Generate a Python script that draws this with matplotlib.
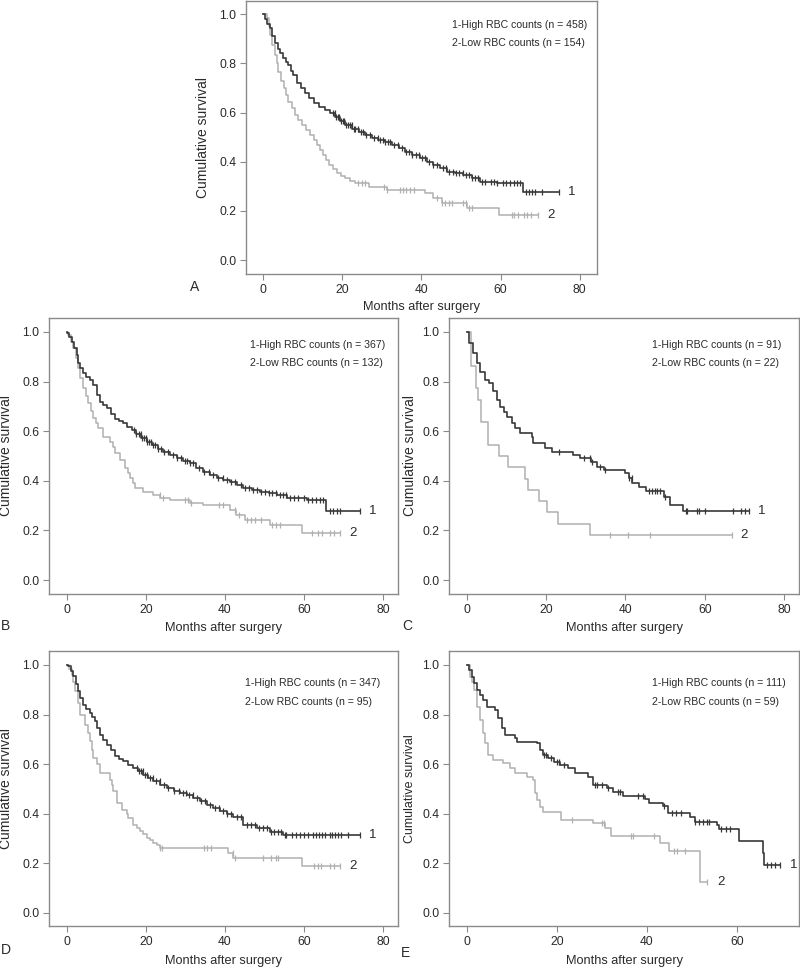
import numpy as np
import matplotlib
matplotlib.use("Agg")
import matplotlib.pyplot as plt

plt.rcParams['font.family'] = ['Liberation Sans', 'DejaVu Sans']

DARK = '#383838'
LIGHT = '#b0b0b0'
FRAME = '#8a8a8a'
TXT = '#2a2a2a'

# ---- panel A: all patients ----
a_t1 = [0, 0.5, 1.0, 1.7, 2.3, 2.96, 3.6, 4.2, 5.0, 5.7, 6.3, 7.0, 7.6, 8.5, 9.5, 10.6, 11.6, 12.7,
        14.1, 15.6, 16.8, 18.1, 19.4, 20.7, 22.4, 24.1, 25.8, 27.4, 29.1, 30.8, 32.5, 34.2, 35.9, 37.6,
        39.5, 41.4, 43.0, 44.8, 46.4, 48.5, 50.6, 52.8, 54.9, 57.0, 59.0, 63.3, 65.8]
a_s1 = [1.0, 0.98, 0.96, 0.942, 0.91, 0.881, 0.86, 0.84, 0.82, 0.806, 0.793, 0.77, 0.752, 0.719, 0.698,
        0.678, 0.657, 0.637, 0.623, 0.61, 0.597, 0.583, 0.566, 0.549, 0.535, 0.522, 0.51, 0.498, 0.49,
        0.482, 0.468, 0.455, 0.441, 0.428, 0.414, 0.4, 0.388, 0.374, 0.36, 0.353, 0.346, 0.333, 0.319,
        0.317, 0.315, 0.313, 0.279]
a_end1 = 74.7
a_c1 = [17.5, 18.0, 18.4, 18.8, 19.2, 19.7, 20.1, 20.5, 21.0, 21.4, 21.9, 22.3, 22.8, 23.3, 24.0, 24.6,
        25.2, 26.0, 27.0, 28.1, 29.0, 29.6, 30.2, 30.8, 31.4, 32.0, 33.0, 34.0, 35.0, 36.0, 36.8, 37.6,
        38.5, 39.3, 40.2, 41.0, 42.0, 43.0, 44.0, 45.5, 46.2, 47.0, 48.0, 48.8, 49.6, 50.5, 51.3, 52.0,
        52.8, 53.6, 54.4, 55.2, 56.0, 57.5, 58.3, 59.2, 60.5, 61.5, 62.5, 63.3, 64.1, 64.9, 66.5, 67.2,
        68.0, 68.8, 70.5, 74.7]
a_t2 = [0, 0.86, 1.3, 1.7, 2.3, 2.96, 3.4, 3.8, 4.4, 5.1, 5.7, 6.3, 7.2, 8.0, 8.8, 9.7, 10.7, 11.8,
        12.7, 13.5, 14.3, 15.2, 15.9, 16.5, 17.5, 18.6, 19.6, 20.7, 22.0, 23.2, 26.6, 31.2, 40.9, 43.0,
        45.1, 51.5, 59.5]
a_s2 = [1.0, 0.982, 0.95, 0.915, 0.875, 0.833, 0.8, 0.766, 0.73, 0.698, 0.67, 0.644, 0.617, 0.59, 0.57,
        0.549, 0.53, 0.509, 0.49, 0.468, 0.448, 0.428, 0.407, 0.387, 0.37, 0.353, 0.343, 0.333, 0.323,
        0.313, 0.299, 0.284, 0.272, 0.252, 0.231, 0.211, 0.184]
a_end2 = 69.6
a_c2 = [24.0, 25.0, 25.6, 30.6, 31.2, 34.5, 35.2, 36.0, 37.2, 38.0, 43.8, 45.3, 46.0, 47.0, 47.8, 50.5,
        51.2, 52.0, 52.8, 62.8, 63.5, 64.5, 66.0, 66.8, 67.6, 69.6]

# ---- panel B ----
b_t1 = [0, 0.15, 0.7, 1.26, 1.9, 2.5, 2.9, 3.5, 4.2, 5.0, 5.9, 6.7, 7.6, 8.4, 9.2, 10.1, 11.1, 12.2,
        13.2, 14.3, 15.3, 16.4, 17.6, 18.9, 20.2, 21.5, 23.0, 24.4, 26.1, 27.8, 29.5, 31.2, 32.8, 34.5,
        36.2, 37.9, 39.6, 41.3, 43.0, 44.6, 46.7, 48.8, 51.0, 53.1, 55.6, 60.6, 65.5]
b_s1 = [1.0, 0.995, 0.98, 0.961, 0.935, 0.907, 0.874, 0.853, 0.833, 0.82, 0.806, 0.786, 0.746, 0.719,
        0.705, 0.692, 0.67, 0.649, 0.64, 0.632, 0.618, 0.605, 0.588, 0.571, 0.558, 0.544, 0.53, 0.517,
        0.504, 0.491, 0.48, 0.47, 0.453, 0.437, 0.423, 0.41, 0.403, 0.396, 0.383, 0.37, 0.363, 0.356,
        0.35, 0.343, 0.332, 0.323, 0.28]
b_end1 = 74.1
b_c1 = [17.0, 17.6, 18.2, 18.7, 19.1, 19.6, 20.0, 20.4, 20.9, 21.3, 21.8, 22.4, 23.0, 23.8, 24.5, 25.5,
        26.8, 28.0, 29.0, 29.8, 30.5, 31.2, 32.0, 33.5, 34.8, 36.0, 37.0, 38.2, 39.5, 40.5, 41.5, 42.5,
        44.0, 45.0, 46.0, 47.0, 48.0, 49.0, 50.0, 51.0, 52.0, 53.0, 53.8, 54.6, 55.4, 56.5, 57.5, 58.5,
        60.0, 61.0, 62.0, 63.0, 64.0, 64.8, 66.5, 67.3, 68.2, 69.0, 74.1]
b_t2 = [0, 0.4, 1.0, 1.7, 2.3, 2.9, 3.5, 4.2, 4.9, 5.5, 6.1, 6.7, 7.4, 8.0, 9.2, 10.9, 11.6, 12.2, 13.5,
        14.7, 15.4, 16.0, 16.7, 17.3, 19.4, 21.9, 23.6, 26.1, 31.2, 34.5, 41.3, 42.9, 45.1, 51.4, 59.4]
b_s2 = [1.0, 0.988, 0.96, 0.934, 0.894, 0.854, 0.813, 0.773, 0.742, 0.712, 0.682, 0.652, 0.632, 0.612,
        0.578, 0.558, 0.535, 0.511, 0.484, 0.45, 0.43, 0.41, 0.39, 0.37, 0.356, 0.343, 0.329, 0.321,
        0.309, 0.302, 0.282, 0.262, 0.242, 0.222, 0.188]
b_end2 = 69.1
b_c2 = [23.5, 24.3, 30.0, 30.7, 31.4, 38.5, 39.5, 42.5, 43.5, 45.5, 46.5, 47.5, 49.0, 52.0, 53.0, 54.0,
        62.0, 63.5, 64.5, 66.5, 67.5, 69.1]

# ---- panel C ----
c_t1 = [0, 0.6, 1.7, 2.5, 3.4, 4.6, 5.5, 6.7, 7.6, 8.4, 9.3, 10.1, 11.4, 12.2, 13.5, 16.4, 16.8, 19.8,
        21.5, 26.9, 28.6, 31.2, 32.8, 34.5, 40.0, 40.8, 41.7, 43.4, 45.1, 49.7, 51.2, 54.6]
c_s1 = [1.0, 0.954, 0.914, 0.874, 0.84, 0.806, 0.793, 0.76, 0.726, 0.699, 0.679, 0.659, 0.632, 0.612,
        0.591, 0.578, 0.551, 0.531, 0.517, 0.504, 0.49, 0.477, 0.457, 0.443, 0.43, 0.41, 0.39, 0.376,
        0.36, 0.335, 0.302, 0.279]
c_end1 = 71.0
c_c1 = [23.2, 29.5, 31.0, 31.5, 33.5, 34.8, 41.0, 41.6, 45.9, 46.7, 47.4, 48.0, 48.7, 50.0, 55.2, 55.6,
        57.9, 58.5, 60.0, 67.1, 69.1, 70.1, 71.0]
c_t2 = [0, 1.2, 2.3, 2.9, 3.5, 5.3, 8.2, 10.5, 14.8, 15.5, 18.2, 20.3, 22.9, 31.0]
c_s2 = [1.0, 0.864, 0.773, 0.727, 0.636, 0.545, 0.5, 0.455, 0.409, 0.364, 0.318, 0.273, 0.227, 0.182]
c_end2 = 66.7
c_c2 = [36.2, 40.7, 46.2, 66.7]

# ---- panel D ----
d_t1 = [0, 0.4, 1.0, 1.7, 2.3, 2.9, 3.5, 4.2, 5.0, 5.9, 6.5, 7.2, 7.8, 8.4, 9.2, 10.1, 11.1, 12.2, 13.2,
        14.3, 15.5, 16.8, 18.1, 19.4, 20.6, 21.9, 23.6, 25.3, 27.0, 28.6, 30.3, 32.0, 33.7, 35.4, 37.0,
        38.7, 40.4, 42.1, 44.6, 48.0, 51.4, 54.7]
d_s1 = [1.0, 0.995, 0.975, 0.954, 0.924, 0.894, 0.867, 0.84, 0.823, 0.806, 0.79, 0.773, 0.745, 0.719,
        0.698, 0.678, 0.655, 0.631, 0.621, 0.611, 0.598, 0.584, 0.57, 0.557, 0.543, 0.53, 0.516, 0.503,
        0.493, 0.483, 0.473, 0.463, 0.45, 0.436, 0.422, 0.409, 0.398, 0.388, 0.354, 0.341, 0.327, 0.314]
d_end1 = 74.1
d_c1 = [17.8, 18.3, 18.8, 19.3, 19.8, 20.4, 21.0, 21.7, 22.5, 23.5, 24.5, 25.5, 27.0, 28.5, 29.5, 30.2,
        31.0, 31.8, 33.0, 34.0, 35.0, 36.2, 37.5, 38.5, 39.5, 40.5, 41.5, 43.0, 44.0, 45.5, 46.5, 47.5,
        48.5, 49.5, 50.5, 51.5, 52.5, 53.5, 54.2, 55.2, 55.5, 57.0, 58.0, 59.0, 60.0, 61.0, 62.2, 63.0,
        63.8, 64.5, 65.2, 66.5, 67.0, 67.8, 68.6, 69.3, 71.0, 74.1]
d_t2 = [0, 0.6, 1.26, 1.7, 2.1, 2.8, 3.4, 4.6, 5.3, 5.9, 6.3, 6.7, 7.6, 8.4, 10.9, 11.4, 11.8, 12.6,
        13.9, 15.2, 15.6, 16.8, 17.7, 18.5, 19.4, 20.2, 21.0, 21.9, 22.8, 23.6, 40.8, 42.1, 59.4]
d_s2 = [1.0, 0.985, 0.961, 0.93, 0.894, 0.847, 0.8, 0.759, 0.725, 0.692, 0.657, 0.625, 0.6, 0.564,
        0.537, 0.515, 0.49, 0.443, 0.416, 0.4, 0.382, 0.355, 0.342, 0.329, 0.316, 0.302, 0.292, 0.281,
        0.272, 0.262, 0.24, 0.219, 0.188]
d_end2 = 69.1
d_c2 = [23.6, 24.2, 34.6, 35.5, 36.4, 42.0, 42.5, 49.5, 51.5, 52.8, 53.4, 62.5, 63.5, 64.3, 66.5, 67.5,
        69.1]

# ---- panel E ----
e_t1 = [0, 0.6, 1.1, 1.6, 2.2, 3.0, 3.7, 4.4, 6.3, 7.0, 7.8, 8.5, 10.7, 11.1, 15.6, 16.3, 17.0, 18.1,
        19.3, 20.7, 22.6, 24.1, 27.0, 28.1, 31.1, 32.6, 34.8, 39.6, 40.4, 43.7, 44.8, 49.6, 50.7, 55.6,
        56.0, 60.5, 65.7, 66.1]
e_s1 = [1.0, 0.98, 0.953, 0.926, 0.899, 0.879, 0.859, 0.832, 0.818, 0.785, 0.744, 0.717, 0.704, 0.69,
        0.684, 0.657, 0.637, 0.623, 0.61, 0.596, 0.583, 0.563, 0.549, 0.515, 0.502, 0.489, 0.471, 0.458,
        0.441, 0.432, 0.404, 0.388, 0.367, 0.354, 0.338, 0.289, 0.24, 0.192]
e_end1 = 69.6
e_c1 = [17.2, 17.6, 18.7, 20.0, 20.6, 21.5, 28.5, 29.0, 30.0, 31.3, 33.5, 34.0, 38.0, 39.2, 43.9, 45.5,
        46.5, 47.6, 50.8, 51.5, 52.4, 53.3, 53.8, 56.5, 57.5, 58.5, 66.8, 67.6, 68.4, 69.6]
e_t2 = [0, 0.7, 1.1, 1.6, 2.2, 3.0, 3.6, 4.1, 4.8, 5.9, 8.1, 9.6, 10.7, 13.3, 14.8, 15.2, 15.6, 16.3,
        17.0, 21.0, 28.1, 30.7, 32.0, 43.0, 45.0, 51.9]
e_s2 = [1.0, 0.953, 0.933, 0.899, 0.832, 0.778, 0.724, 0.684, 0.637, 0.616, 0.603, 0.583, 0.563, 0.549,
        0.536, 0.482, 0.455, 0.428, 0.405, 0.374, 0.361, 0.34, 0.31, 0.28, 0.249, 0.125]
e_end2 = 53.3
e_c2 = [23.4, 30.0, 30.4, 36.6, 37.0, 41.5, 46.0, 46.6, 48.5, 53.3]

legends = {
    'A': ('1-High RBC counts (n = 458)', '2-Low RBC counts (n = 154)'),
    'B': ('1-High RBC counts (n = 367)', '2-Low RBC counts (n = 132)'),
    'C': ('1-High RBC counts (n = 91)', '2-Low RBC counts (n = 22)'),
    'D': ('1-High RBC counts (n = 347)', '2-Low RBC counts (n = 95)'),
    'E': ('1-High RBC counts (n = 111)', '2-Low RBC counts (n = 59)'),
}

W, H = 800, 967
fig = plt.figure(figsize=(W / 100, H / 100), dpi=100)


def px_axes(l, t, r, b):
    return fig.add_axes([l / W, 1 - b / H, (r - l) / W, (b - t) / H])


def km(ax, t, s, end, cens, color, lw, num):
    t = np.asarray(t)
    s = np.asarray(s)
    ax.plot(np.append(t, end), np.append(s, s[-1]), drawstyle='steps-post',
            color=color, lw=lw)
    c = np.asarray(cens)
    cy = s[np.searchsorted(t, c, side='right') - 1]
    ax.plot(c, cy, ls='none', marker='|', ms=4.5, mew=0.9, color=color)
    ax.text(end + 2.3, s[-1], num, fontsize=9.5, color=TXT, ha='left', va='center')


def panel(box, letter, xlim, ylim, xticks, curves, leg_xy, ylab_x, ylab_fs, xlab_y, letter_xy):
    ax = px_axes(*box)
    for sp in ax.spines.values():
        sp.set_color(FRAME)
        sp.set_linewidth(1.0)
    (t1, s1, e1, c1), (t2, s2, e2, c2) = curves
    km(ax, t2, s2, e2, c2, LIGHT, 1.1, '2')
    km(ax, t1, s1, e1, c1, DARK, 1.2, '1')
    ax.set_xlim(*xlim)
    ax.set_ylim(*ylim)
    ax.set_xticks(xticks)
    ax.set_yticks([0.0, 0.2, 0.4, 0.6, 0.8, 1.0])
    ax.set_yticklabels(['0.0', '0.2', '0.4', '0.6', '0.8', '1.0'])
    ax.tick_params(direction='out', length=4, width=0.8, color=FRAME,
                   labelsize=8.7, labelcolor=TXT, pad=3)
    ax.set_xlabel('Months after surgery', fontsize=9.2, color=TXT)
    ax.xaxis.set_label_coords(0.5, xlab_y)
    ax.xaxis.label.set_va('center')
    ax.set_ylabel('Cumulative survival', fontsize=ylab_fs, color=TXT)
    ax.yaxis.set_label_coords(ylab_x, 0.5)
    ax.yaxis.label.set_va('center')
    l1, l2 = legends[letter]
    ax.text(leg_xy[0], leg_xy[1], l1, transform=ax.transAxes, fontsize=7.6,
            color=TXT, ha='left', va='center')
    ax.text(leg_xy[0], leg_xy[2], l2, transform=ax.transAxes, fontsize=7.6,
            color=TXT, ha='left', va='center')
    fig.text(letter_xy[0] / W, 1 - letter_xy[1] / H, letter, fontsize=10,
             color=TXT, ha='center', va='center')
    return ax


ticks80 = [0, 20, 40, 60, 80]

panel((246, 1, 597, 274), 'A', (-4.4, 84.4), (-0.056, 1.053), ticks80,
      [(a_t1, a_s1, a_end1, a_c1), (a_t2, a_s2, a_end2, a_c2)],
      (0.587, 0.912, 0.846), -0.123, 10, -0.121, (195, 287))

panel((49, 318, 398, 594), 'B', (-4.45, 83.7), (-0.056, 1.056), ticks80,
      [(b_t1, b_s1, b_end1, b_c1), (b_t2, b_s2, b_end2, b_c2)],
      (0.576, 0.902, 0.837), -0.124, 10, -0.123, (6, 626))

panel((449, 318, 799, 594), 'C', (-4.45, 83.7), (-0.056, 1.056), ticks80,
      [(c_t1, c_s1, c_end1, c_c1), (c_t2, c_s2, c_end2, c_c2)],
      (0.579, 0.902, 0.837), -0.112, 10, -0.123, (407, 626))

panel((49, 651, 398, 926), 'D', (-4.45, 83.7), (-0.054, 1.0565), ticks80,
      [(d_t1, d_s1, d_end1, d_c1), (d_t2, d_s2, d_end2, d_c2)],
      (0.5616, 0.8825, 0.816), -0.124, 10, -0.127, (6, 950))

panel((449, 651, 799, 926), 'E', (-3.93, 73.8), (-0.054, 1.0565), [0, 20, 40, 60],
      [(e_t1, e_s1, e_end1, e_c1), (e_t2, e_s2, e_end2, e_c2)],
      (0.579, 0.8825, 0.816), -0.112, 9, -0.127, (405, 953))

fig.savefig('out.png', dpi=100)
